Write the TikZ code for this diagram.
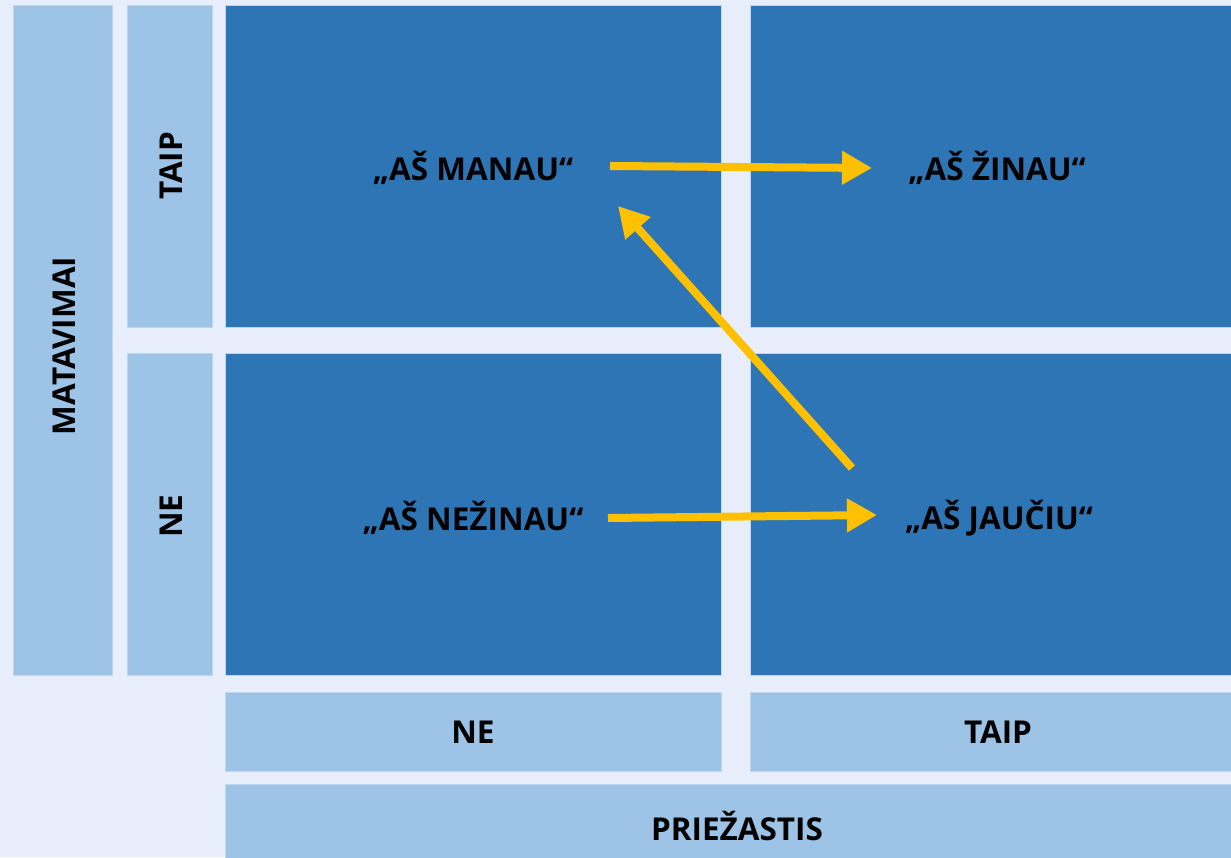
\documentclass[tikz,border=0pt]{standalone}
\usepackage{fontspec}
\setmainfont{Open Sans}
\usetikzlibrary{arrows.meta}
\definecolor{bgc}{HTML}{E8EEFB}
\definecolor{lightb}{HTML}{9DC3E6}
\definecolor{lightbd}{HTML}{BDD7EE}
\definecolor{darkb}{HTML}{2E75B6}
\definecolor{arr}{HTML}{FFC000}
\tikzset{
  lbox/.style={fill=lightb, draw=lightbd, line width=0.8pt},
  dbox/.style={fill=darkb, draw=lightbd, line width=0.6pt},
  lbl/.style={font=\bfseries\fontsize{31.5}{34}\selectfont, text=black, inner sep=0pt},
  yarrow/.style={draw=arr, line width=8pt, -{Triangle[length=30pt, width=32pt]}}
}
\begin{document}
\begin{tikzpicture}[x=1pt, y=-1pt]
\fill[bgc] (0,0) rectangle (1231,857);
\useasboundingbox (0,0) rectangle (1231,857);
% side bars
\filldraw[lbox] (13,5) rectangle (112,675);
\filldraw[lbox] (127,5) rectangle (212,327);
\filldraw[lbox] (127,353) rectangle (212,675);
% cells
\filldraw[dbox] (225,5) rectangle (721,327);
\filldraw[dbox] (750,5) rectangle (1240,327);
\filldraw[dbox] (225,353) rectangle (721,675);
\filldraw[dbox] (750,353) rectangle (1240,675);
% bottom bars
\filldraw[lbox] (225,692) rectangle (721,771);
\filldraw[lbox] (750,692) rectangle (1240,771);
\filldraw[lbox] (225,784) rectangle (1240,870);
% labels
\node[lbl, rotate=90] (mat) at (64,346) {MATAVIMAI};
\node[lbl, rotate=90] (taipv) at (171,166) {TAIP};
\node[lbl, rotate=90] (nev) at (171,516) {NE};
\node[lbl] (neh) at (473,732) {NE};
\node[lbl] (taiph) at (998,732) {TAIP};
\node[lbl] (prie) at (737,826) {PRIEŽASTIS};
\node[lbl] (manau) at (473,168) {„AŠ MANAU“};
\node[lbl] (zinau) at (997,168) {„AŠ ŽINAU“};
\node[lbl] (nezinau) at (473,518) {„AŠ NEŽINAU“};
\node[lbl] (jauciu) at (999,518) {„AŠ JAUČIU“};
% arrow endpoints
\coordinate (a1s) at (610,166);
\coordinate (a1e) at (872,168);
\coordinate (a2s) at (852,468);
\coordinate (a2e) at (618,206);
\coordinate (a3s) at (608,518);
\coordinate (a3e) at (877,515);
\draw[yarrow] (a1s) -- (a1e);
\draw[yarrow] (a2s) -- (a2e);
\draw[yarrow] (a3s) -- (a3e);
\end{tikzpicture}
\end{document}
